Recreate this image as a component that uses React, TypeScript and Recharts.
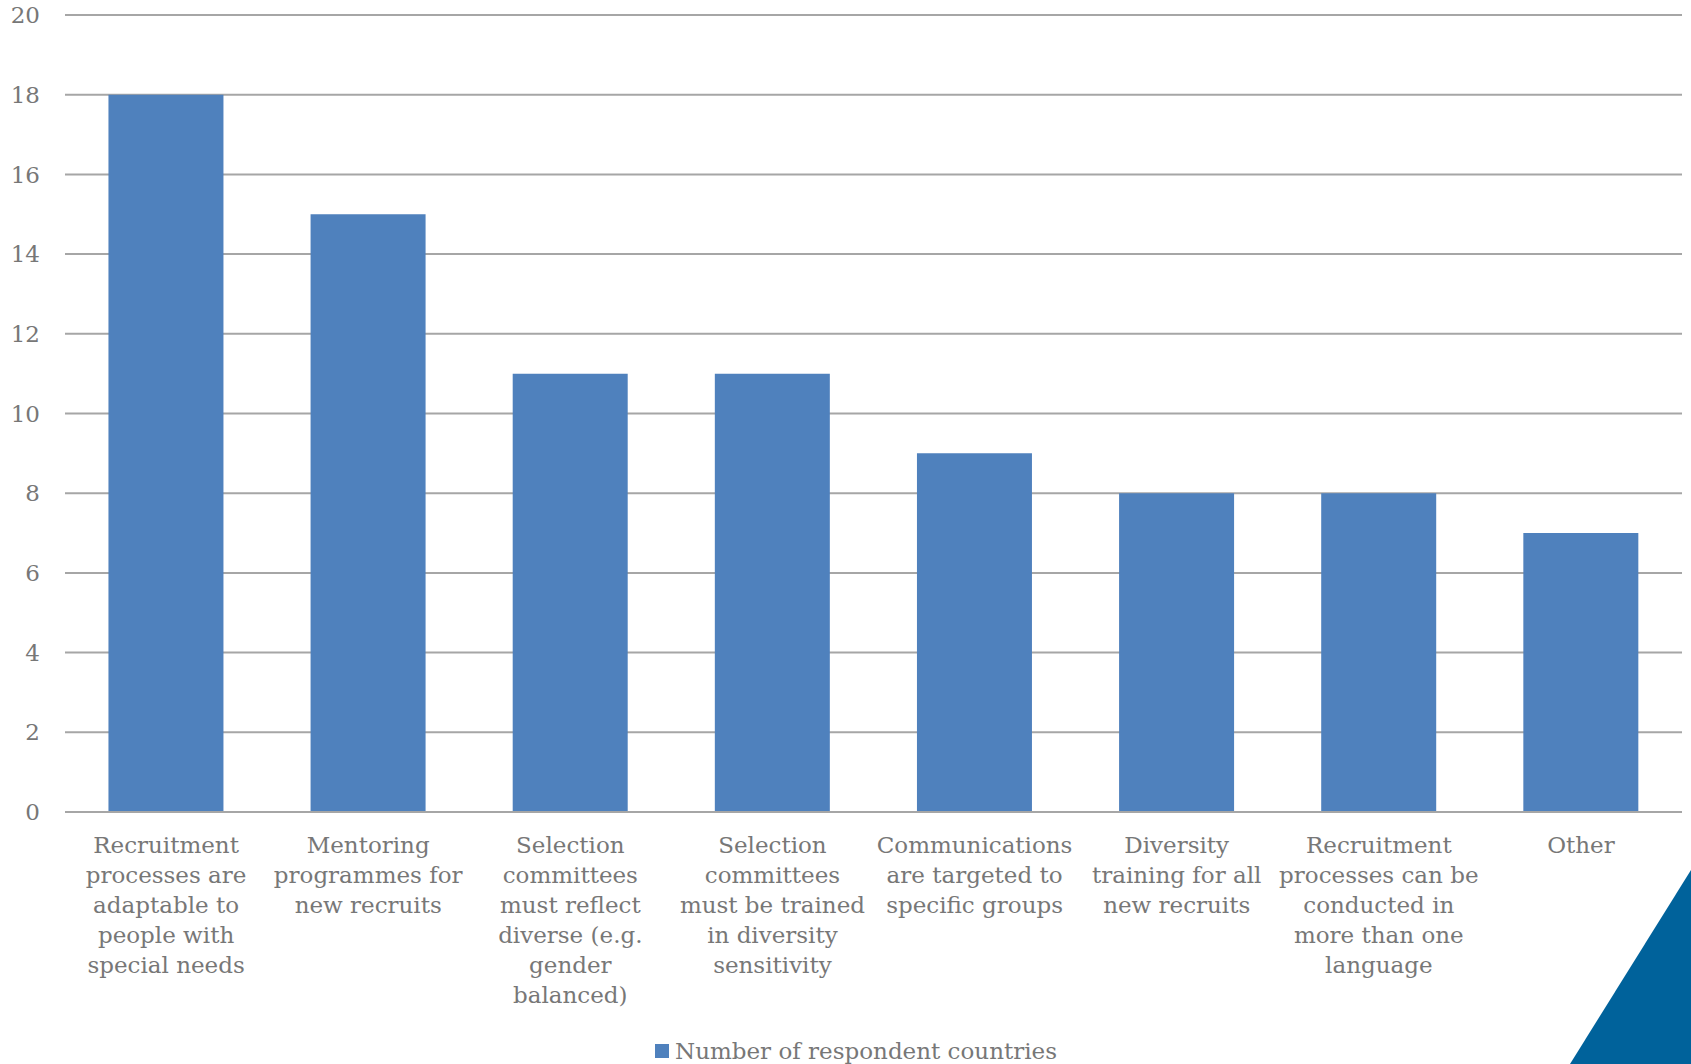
import React from "react";
import { BarChart, Bar, XAxis, YAxis, CartesianGrid, Legend } from "recharts";

const categories = [
  "Recruitment\nprocesses are\nadaptable to\npeople with\nspecial needs",
  "Mentoring\nprogrammes for\nnew recruits",
  "Selection\ncommittees\nmust reflect\ndiverse (e.g.\ngender\nbalanced)",
  "Selection\ncommittees\nmust be trained\nin diversity\nsensitivity",
  "Communications\nare targeted to\nspecific groups",
  "Diversity\ntraining for all\nnew recruits",
  "Recruitment\nprocesses can be\nconducted in\nmore than one\nlanguage",
  "Other",
];
const values = [18, 15, 11, 11, 9, 8, 8, 7];
const yTicks = [0, 2, 4, 6, 8, 10, 12, 14, 16, 18, 20];
const seriesName = "Number of respondent countries";

const data = categories.map((c, i) => ({ name: c, value: values[i] }));

const FONT = "'DejaVu Serif', serif";
const TEXT = "#777777";
const BAR = "#4F81BD";

const CategoryTick = (props: any) => {
  const { x, y, payload } = props;
  const lines = String(payload.value).split("\n");
  return (
    <text x={x} y={y + 41} textAnchor="middle" fill={TEXT} fontFamily={FONT} fontSize={23}>
      {lines.map((l, i) => (
        <tspan key={i} x={x} dy={i === 0 ? 0 : 30}>
          {l}
        </tspan>
      ))}
    </text>
  );
};

const LegendContent = () => (
  <div style={{ display: "flex", justifyContent: "center", alignItems: "center", height: 32, paddingLeft: 30, paddingTop: 6, boxSizing: "border-box" }}>
    <span style={{ display: "inline-block", width: 14, height: 14, background: BAR, marginRight: 6 }} />
    <span style={{ color: TEXT, fontFamily: FONT, fontSize: 23 }}>{seriesName}</span>
  </div>
);

export default function App() {
  return (
    <div style={{ position: "absolute", left: 0, top: 0, width: 1691, height: 1064, background: "#fff" }}>
      <BarChart
        width={1691}
        height={1064}
        data={data}
        margin={{ top: 15, right: 9, left: 0, bottom: 0 }}
        barCategoryGap="21.5%"
      >
        <CartesianGrid vertical={false} stroke="#A6A6A6" strokeWidth={2} />
        <XAxis
          dataKey="name"
          interval={0}
          height={220}
          tickLine={false}
          tickSize={0}
          tickMargin={0}
          axisLine={{ stroke: "#A6A6A6", strokeWidth: 2 }}
          tick={<CategoryTick />}
        />
        <YAxis
          width={65}
          domain={[0, 20]}
          ticks={yTicks}
          axisLine={false}
          tickLine={false}
          tickSize={0}
          tickMargin={25}
          tick={{ fill: TEXT, fontFamily: FONT, fontSize: 23 }}
        />
        <Legend verticalAlign="bottom" wrapperStyle={{ height: 32 }} content={<LegendContent />} />
        <Bar dataKey="value" name={seriesName} fill={BAR} isAnimationActive={false} />
      </BarChart>
      <svg width={1691} height={1064} style={{ position: "absolute", left: 0, top: 0, pointerEvents: "none" }}>
        <polygon points="1691,870 1570,1064 1691,1064" fill="#00629B" />
      </svg>
    </div>
  );
}
